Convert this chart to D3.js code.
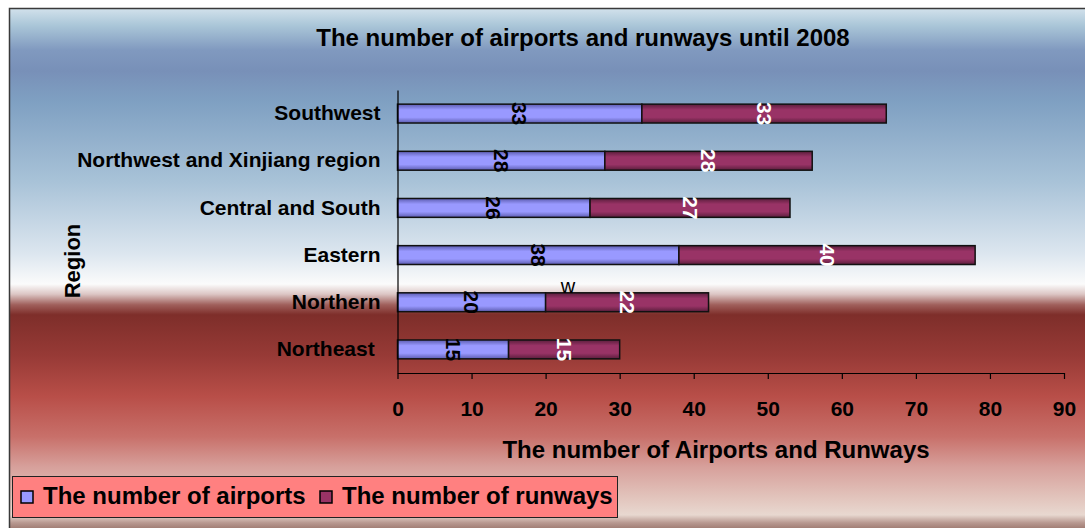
<!DOCTYPE html>
<html>
<head>
<meta charset="utf-8">
<script src="https://cdn.jsdelivr.net/npm/d3@7"></script>
<style>
  html, body { margin: 0; padding: 0; background: #ffffff; }
  svg { display: block; font-family: "Liberation Sans", Arial, sans-serif; }
</style>
</head>
<body>
<svg id="chart" width="1085" height="528"></svg>
<script>
// Regions, listed top to bottom as they appear on the chart
const regions = ["Southwest", "Northwest and Xinjiang region", "Central and South", "Eastern", "Northern", "Northeast "];
// Airports and runways per region until 2008
const airports = [33, 28, 26, 38, 20, 15];
const runways  = [33, 28, 27, 40, 22, 15];
const seriesNames = ["The number of airports", "The number of runways"];
const xTicks = [0, 10, 20, 30, 40, 50, 60, 70, 80, 90];

const svg = d3.select("#chart");
const W = 1085, H = 528;
const defs = svg.append("defs");

// Chart-area background: blue sky fading to white, then a deep red band
const bg = defs.append("linearGradient").attr("id", "bgGrad")
  .attr("x1", 0).attr("y1", 0).attr("x2", 0).attr("y2", 1);
[
  [0.000, "#d3e2ec"], [0.033, "#aac6d8"], [0.080, "#8099bf"], [0.119, "#7890b8"],
  [0.177, "#7fa0c2"], [0.331, "#a9c3d8"], [0.465, "#dce6ef"], [0.523, "#fbfbfb"],
  [0.542, "#dcc6c4"], [0.562, "#a0605c"], [0.581, "#7e2e2a"], [0.658, "#973a36"],
  [0.735, "#b84e48"], [0.812, "#c8706a"], [0.869, "#d7a09b"], [0.927, "#e2c4bc"],
  [0.960, "#e8d8d0"], [0.975, "#b89890"], [1.000, "#80584e"]
].forEach(([o, c]) => bg.append("stop").attr("offset", o).attr("stop-color", c));

// Cylinder-like shading for the bar segments
function barGradient(id, edge, mid) {
  const g = defs.append("linearGradient").attr("id", id)
    .attr("x1", 0).attr("y1", 0).attr("x2", 0).attr("y2", 1);
  [[0, edge], [0.3, mid], [0.7, mid], [1, edge]]
    .forEach(([o, c]) => g.append("stop").attr("offset", o).attr("stop-color", c));
}
barGradient("gradAir", "#5c5cb0", "#9999ff");
barGradient("gradRun", "#5a1e3c", "#993366");

const fills = ["url(#gradAir)", "url(#gradRun)"];
const swatchFills = ["#9999ff", "#993366"];

// Frame
svg.append("rect").attr("x", 9).attr("y", 8).attr("width", W).attr("height", H)
  .attr("fill", "url(#bgGrad)");
svg.append("path").attr("d", `M9.5,${H} V8.5 H${W}`)
  .attr("fill", "none").attr("stroke", "#3a3a3a").attr("stroke-width", 1.5);

// Scales
const x = d3.scaleLinear().domain([0, 90]).range([397.5, 1064]);
const y = d3.scaleBand().domain(regions).range([90, 373]).paddingInner(0.6).paddingOuter(0.3);

// Stacked layout
const rows = regions.map((r, i) => ({ region: r, airports: airports[i], runways: runways[i] }));
const stack = d3.stack().keys(["airports", "runways"])(rows);

const layers = svg.append("g").selectAll("g").data(stack).join("g")
  .attr("fill", (d, i) => fills[i]);
layers.selectAll("rect").data(d => d).join("rect")
  .attr("x", d => x(d[0]))
  .attr("y", d => y(d.data.region))
  .attr("width", d => x(d[1]) - x(d[0]))
  .attr("height", y.bandwidth())
  .attr("stroke", "#111")
  .attr("stroke-width", 1.5);

// Value labels, rotated, centred in each segment
const labelColors = ["#000000", "#ffffff"];
stack.forEach((layer, li) => {
  svg.append("g").selectAll("text").data(layer).join("text")
    .attr("transform", d => `translate(${x((d[0] + d[1]) / 2)},${y(d.data.region) + y.bandwidth() / 2}) rotate(90)`)
    .attr("text-anchor", "middle")
    .attr("dominant-baseline", "central")
    .attr("font-size", 21).attr("font-weight", "bold")
    .attr("fill", labelColors[li])
    .text(d => d[1] - d[0]);
});

// Stray annotation above the Northern bar
svg.append("text").attr("x", 568).attr("y", 293)
  .attr("text-anchor", "middle").attr("font-size", 20).attr("fill", "#000")
  .text("w");

// X axis
const xAxis = svg.append("g").attr("transform", "translate(0,373)")
  .call(d3.axisBottom(x).tickValues(xTicks).tickSize(6).tickSizeOuter(0).tickPadding(22));
xAxis.select(".domain").attr("stroke", "#000").attr("stroke-width", 1.2);
xAxis.selectAll(".tick line").attr("stroke", "#000").attr("stroke-width", 1.2);
xAxis.selectAll(".tick text").attr("font-size", 21).attr("font-weight", "bold")
  .attr("fill", "#000").attr("font-family", "Liberation Sans, Arial, sans-serif");

// Y axis
const yAxis = svg.append("g").attr("transform", "translate(397.5,0)")
  .call(d3.axisLeft(y).tickSize(0).tickPadding(17));
yAxis.select(".domain").attr("stroke", "#000").attr("stroke-width", 1.2);
yAxis.selectAll(".tick text").attr("font-size", 21).attr("font-weight", "bold")
  .attr("fill", "#000").attr("font-family", "Liberation Sans, Arial, sans-serif")
  .style("white-space", "pre");

// Titles
svg.append("text").attr("x", 583).attr("y", 46).attr("text-anchor", "middle")
  .attr("font-size", 24).attr("font-weight", "bold").attr("fill", "#000")
  .text("The number of airports and runways until  2008");
svg.append("text").attr("x", 716).attr("y", 458).attr("text-anchor", "middle")
  .attr("font-size", 24).attr("font-weight", "bold").attr("fill", "#000")
  .text("The number of Airports and Runways");
svg.append("text").attr("transform", "translate(80,261) rotate(-90)")
  .attr("text-anchor", "middle")
  .attr("font-size", 22).attr("font-weight", "bold").attr("fill", "#000")
  .text("Region");

// Legend
const legend = svg.append("g");
legend.append("rect").attr("x", 12.5).attr("y", 476.5).attr("width", 605).attr("height", 41)
  .attr("fill", "#ff8080").attr("stroke", "#222").attr("stroke-width", 1);
const legendX = [21, 320];
seriesNames.forEach((name, i) => {
  legend.append("rect").attr("x", legendX[i]).attr("y", 491).attr("width", 12).attr("height", 12)
    .attr("fill", swatchFills[i]).attr("stroke", "#000").attr("stroke-width", 1.5);
  legend.append("text").attr("x", legendX[i] + 22).attr("y", 504)
    .attr("font-size", 24).attr("font-weight", "bold").attr("fill", "#000")
    .text(name);
});
</script>
</body>
</html>
